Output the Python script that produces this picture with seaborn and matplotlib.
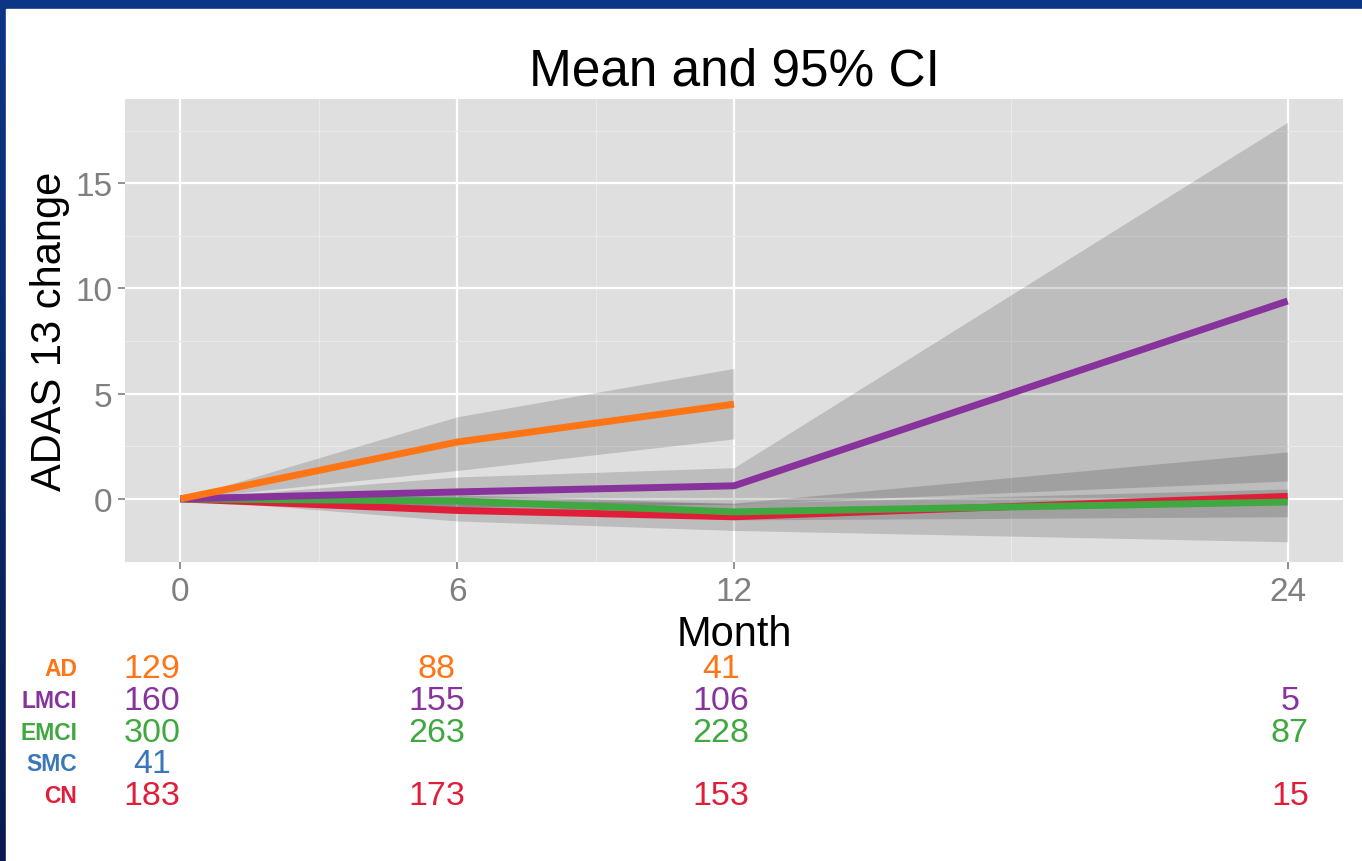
import numpy as np
import pandas as pd
import matplotlib
matplotlib.use("Agg")
import matplotlib.pyplot as plt
from matplotlib.patches import Rectangle
import seaborn as sns

# data
months = [0, 6, 12, 24]
groups = ["CN", "SMC", "EMCI", "LMCI", "AD"]
colors = {"AD": "#FF7414", "LMCI": "#88339C", "EMCI": "#40A840",
          "SMC": "#3A76B8", "CN": "#E01E3A"}

mean_ad = [0.0, 2.7, 4.5, np.nan]
lo_ad = [0.0, 1.35, 2.85, np.nan]
hi_ad = [0.0, 3.9, 6.2, np.nan]

mean_lmci = [0.0, 0.33, 0.62, 9.4]
lo_lmci = [0.0, -0.38, -0.25, 0.85]
hi_lmci = [0.0, 1.04, 1.48, 17.9]

mean_emci = [0.0, -0.1, -0.62, -0.15]
lo_emci = [0.0, -0.4, -1.0, -0.85]
hi_emci = [0.0, 0.2, -0.22, 0.47]

mean_cn = [0.0, -0.55, -0.85, 0.12]
lo_cn = [0.0, -1.05, -1.5, -2.04]
hi_cn = [0.0, -0.05, -0.2, 2.23]

mean_smc = [0.0, np.nan, np.nan, np.nan]

# counts table under the plot
row_order = ["AD", "LMCI", "EMCI", "SMC", "CN"]
n_ad = ["129", "88", "41", ""]
n_lmci = ["160", "155", "106", "5"]
n_emci = ["300", "263", "228", "87"]
n_smc = ["41", "", "", ""]
n_cn = ["183", "173", "153", "15"]
counts = {"AD": n_ad, "LMCI": n_lmci, "EMCI": n_emci, "SMC": n_smc, "CN": n_cn}

means = {"AD": mean_ad, "LMCI": mean_lmci, "EMCI": mean_emci, "SMC": mean_smc, "CN": mean_cn}
bands = {"CN": (lo_cn, hi_cn), "EMCI": (lo_emci, hi_emci),
         "LMCI": (lo_lmci, hi_lmci), "AD": (lo_ad, hi_ad)}

df = pd.DataFrame([(g, m, v) for g in groups for m, v in zip(months, means[g])],
                  columns=["group", "month", "change"]).dropna()

plt.rcParams["font.family"] = ["Liberation Sans", "DejaVu Sans"]
W, H = 1362, 862
fig = plt.figure(figsize=(W / 100, H / 100), dpi=100)

# slide background: blue frame on top/left
bg = fig.add_axes([0, 0, 1, 1], zorder=-10)
grad = np.linspace(0, 1, 100)[:, None]
bg.imshow(grad, aspect="auto", extent=[0, 1, 0, 1],
          cmap=matplotlib.colors.LinearSegmentedColormap.from_list("b", ["#0a1a4f", "#0d3585"]),
          origin="lower")
bg.add_patch(Rectangle((6 / W, 0), 1, 1 - 10 / H, color="white"))
bg.set_xlim(0, 1)
bg.set_ylim(0, 1)
bg.axis("off")

ax = fig.add_axes([125 / W, 1 - 563 / H, (1343 - 125) / W, (563 - 100) / H])
ax.set_facecolor("#DFDFDF")
for s in ax.spines.values():
    s.set_visible(False)
ax.set_xlim(-1.2, 25.2)
ax.set_ylim(-3.0, 19.0)
ax.set_xticks(months)
ax.set_yticks([0, 5, 10, 15])
ax.xaxis.set_minor_locator(matplotlib.ticker.FixedLocator([3, 9, 18]))
ax.yaxis.set_minor_locator(matplotlib.ticker.FixedLocator([2.5, 7.5, 12.5, 17.5]))
ax.grid(which="major", color="white", lw=1.6, zorder=0)
ax.grid(which="minor", color="#EAEAEA", lw=0.8, zorder=0)
ax.set_axisbelow(True)
ax.tick_params(which="major", colors="#7F7F7F", labelsize=24, length=5, width=1.2, pad=4)
ax.tick_params(axis="x", pad=5)
ax.tick_params(which="minor", length=0)

for g in ["CN", "EMCI", "LMCI", "AD"]:
    lo, hi = bands[g]
    ax.fill_between(months, lo, hi, color="black", alpha=0.15, lw=0, zorder=1)

sns.lineplot(data=df, x="month", y="change", hue="group", hue_order=groups,
             palette=colors, lw=5, legend=False, ax=ax, zorder=3,
             solid_capstyle="butt")

ax.set_xlabel("Month", fontsize=30, labelpad=5)
ax.set_ylabel("ADAS 13 change", fontsize=30, labelpad=4)
fig.text(734 / W, 1 - 72 / H, "Mean and 95% CI", fontsize=37, ha="center", va="center")

# counts table
tab = fig.add_axes([152 / W, 1 - 812 / H, (1290 - 152) / W, (812 - 654) / H])
tab.set_xlim(0, 24)
tab.set_ylim(-0.5, 4.5)
tab.axis("off")
for i, g in enumerate(row_order):
    y = 4 - i
    tab.text(-1.58, y, g, color=colors[g], fontsize=16.5, fontweight="bold",
             ha="right", va="center", clip_on=False)
    for m, c in zip(months, counts[g]):
        tab.text(m, y, c, color=colors[g], fontsize=24.5, ha="center", va="center",
                 clip_on=False)

fig.savefig("out.png", dpi=100)
